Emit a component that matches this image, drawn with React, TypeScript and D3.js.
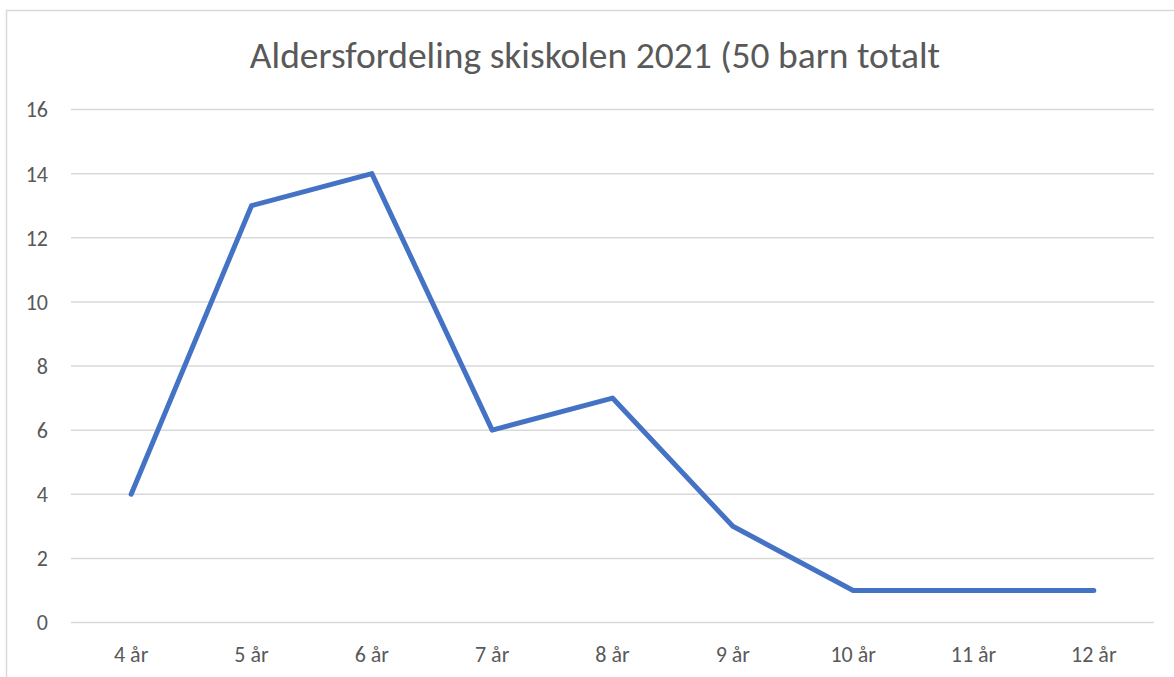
import React from 'react';
import * as d3 from 'd3';

const categories = ['4 år', '5 år', '6 år', '7 år', '8 år', '9 år', '10 år', '11 år', '12 år'];
const values = [4, 13, 14, 6, 7, 3, 1, 1, 1];
const yTicks = [0, 2, 4, 6, 8, 10, 12, 14, 16];
const title = 'Aldersfordeling skiskolen 2021 (50 barn totalt';

const W = 1174;
const H = 677;
const margin = { top: 109.5, right: 20, bottom: 54.5, left: 71 };
const font = 'Calibri, Carlito, Lato, "Open Sans", sans-serif';
const textColor = '#595959';

export default function App() {
  const x = d3
    .scaleBand()
    .domain(categories)
    .range([margin.left, W - margin.right]);
  const y = d3
    .scaleLinear()
    .domain([0, 16])
    .range([H - margin.bottom, margin.top]);

  const line = d3
    .line<number>()
    .x((d, i) => x(categories[i])! + x.bandwidth() / 2)
    .y((d) => y(d));

  return (
    <svg
      width={W}
      height={H}
      style={{ position: 'absolute', left: 0, top: 0, background: '#fff' }}
    >
      <rect x={6.5} y={10.5} width={W} height={H} fill="#fff" stroke="#d9d9d9" strokeWidth={1.5} />
      <text
        x={595}
        y={68}
        textAnchor="middle"
        fontFamily={font}
        fontSize={37.5}
        fill={textColor}
      >
        {title}
      </text>
      {yTicks.map((t) => (
        <g key={t}>
          <line
            x1={margin.left}
            x2={W - margin.right}
            y1={y(t)}
            y2={y(t)}
            stroke="#d9d9d9"
            strokeWidth={1.5}
          />
          <text
            x={48}
            y={y(t)}
            dy="0.36em"
            textAnchor="end"
            fontFamily={font}
            fontSize={22}
            fill={textColor}
          >
            {t}
          </text>
        </g>
      ))}
      {categories.map((c) => (
        <text
          key={c}
          x={x(c)! + x.bandwidth() / 2}
          y={662}
          textAnchor="middle"
          fontFamily={font}
          fontSize={22}
          fill={textColor}
        >
          {c}
        </text>
      ))}
      <path
        d={line(values)!}
        fill="none"
        stroke="#4472c4"
        strokeWidth={5}
        strokeLinecap="round"
        strokeLinejoin="round"
      />
    </svg>
  );
}
